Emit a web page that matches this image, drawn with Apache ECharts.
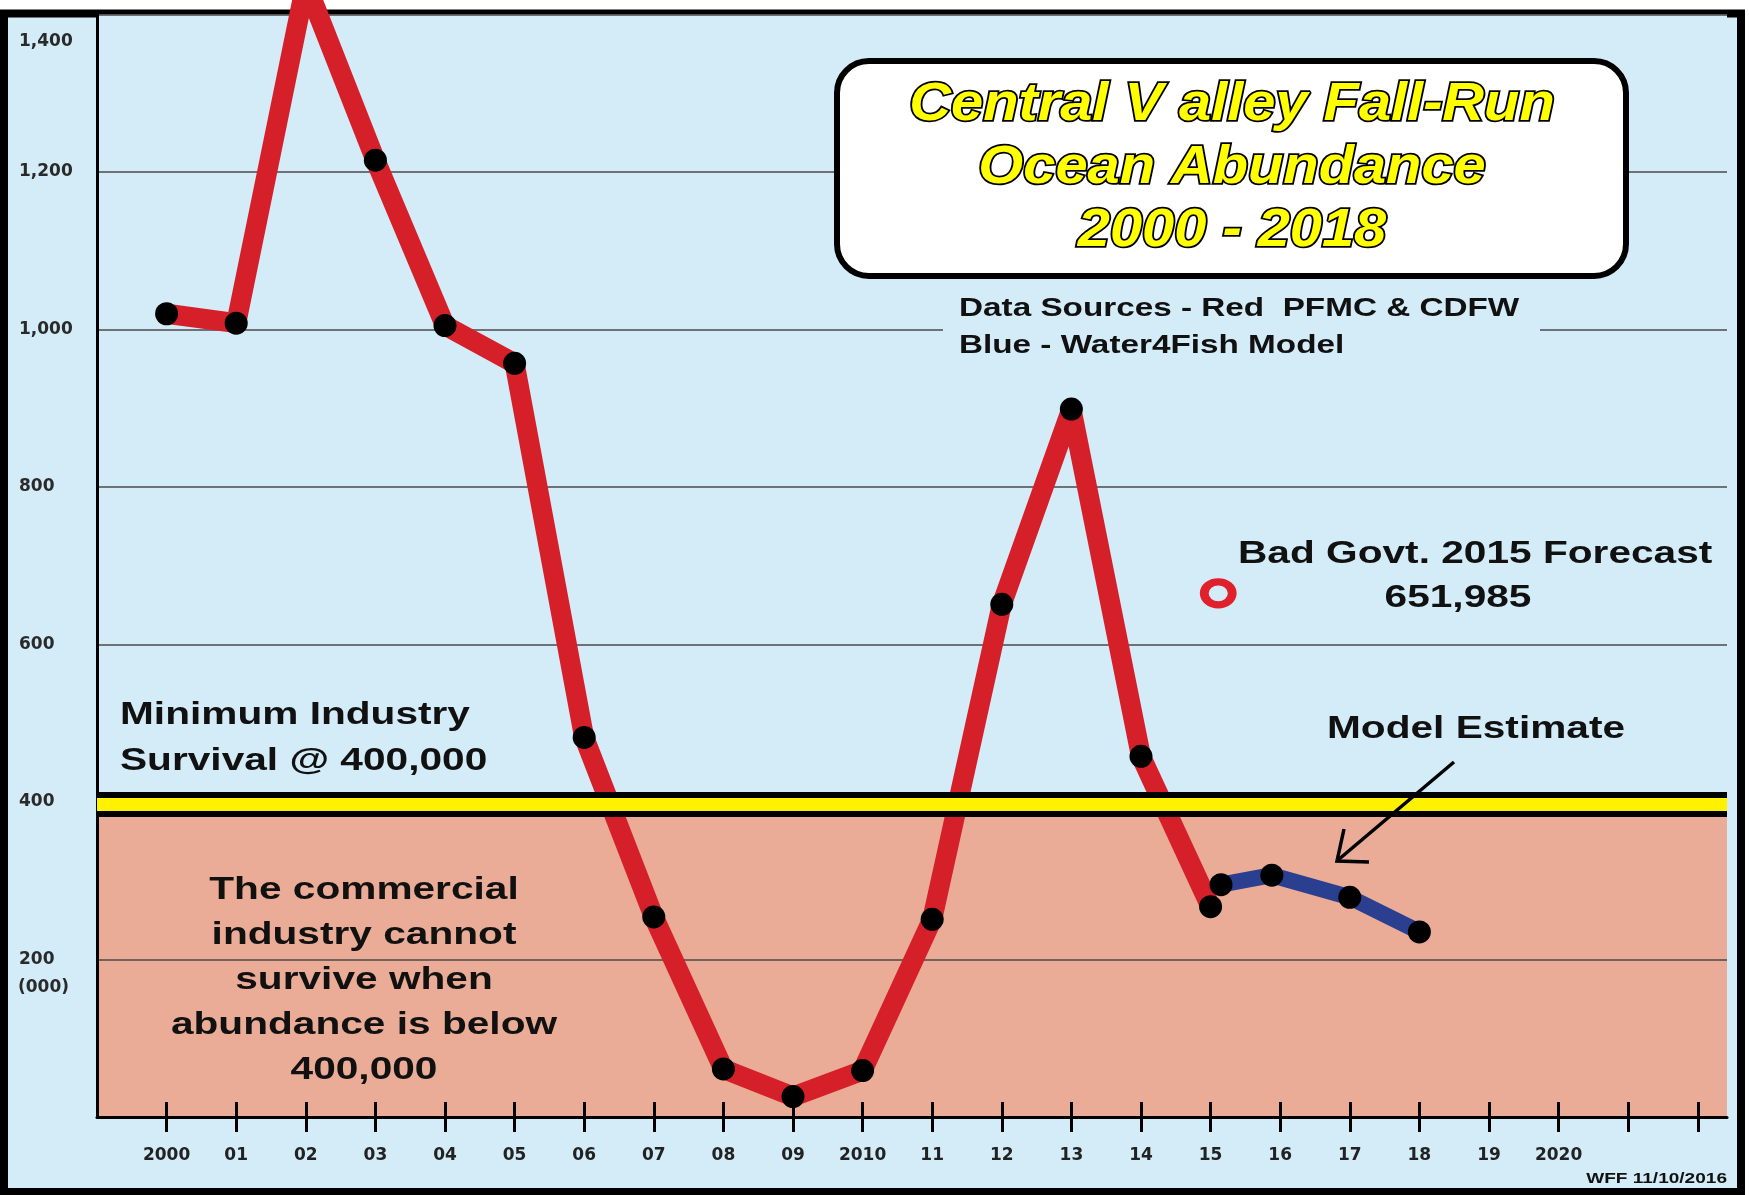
<!DOCTYPE html>
<html>
<head>
<meta charset="utf-8">
<script src="https://cdn.jsdelivr.net/npm/echarts@6/dist/echarts.min.js"></script>
<style>
html, body { margin: 0; padding: 0; background: #fff; }
#chart { width: 1749px; height: 1195px; }
</style>
</head>
<body>
<div id="chart"></div>
<script>
// 数据（千尾）
const years = [2000, 2001, 2002, 2003, 2004, 2005, 2006, 2007, 2008, 2009, 2010, 2011, 2012, 2013, 2014, 2015]
const abundance = [1020, 1008, 1440, 1215, 1005, 957, 482, 254, 61, 26, 59, 251, 651, 899, 458, 267]
const modelYears = [2015.15, 2015.88, 2017, 2018]
const modelAbundance = [295, 307, 279, 235]
const forecastPoint = [2015.11, 665]
const tickYears = [2000, 2001, 2002, 2003, 2004, 2005, 2006, 2007, 2008, 2009, 2010, 2011, 2012, 2013, 2014, 2015, 2016, 2017, 2018, 2019, 2020, 2021, 2022]
const labelYears = [2000, 2001, 2002, 2003, 2004, 2005, 2006, 2007, 2008, 2009, 2010, 2011, 2012, 2013, 2014, 2015, 2016, 2017, 2018, 2019, 2020]
const minSurvival = 397

const BLUE_BG = '#D3ECF8'
const PINK = '#EAAC96'
const RED = '#D62029'
const NAVY = '#2B3F91'

const chart = echarts.init(document.getElementById('chart'))

const yearLabel = (v) => {
	if (v === 2000 || v === 2010 || v === 2020) return String(v)
	if (v > 2020 || v < 2000) return ''
	return String(v).slice(2)
}

const stretchText = (text, x, y, size, opts = {}) => ({
	type: 'text',
	x: x,
	y: y,
	scaleX: opts.scaleX || 1.27,
	z: 60,
	style: {
		text: text,
		font: 'bold ' + size + 'px "Liberation Sans", Arial, sans-serif',
		fill: '#111',
		textAlign: opts.align || 'left',
		textVerticalAlign: 'middle',
		lineHeight: opts.lineHeight
	}
})

const option = {
	animation: false,
	grid: {
		left: 97,
		right: 22,
		top: 14.5,
		bottom: 78,
		outerBoundsMode: 'none'
	},
	xAxis: [
		{
			type: 'value',
			min: 1999,
			max: 2022.42,
			interval: 1,
			axisLine: { show: true, lineStyle: { color: '#000', width: 3 } },
			axisTick: {
				show: true,
				length: 15,
				customValues: tickYears,
				lineStyle: { color: '#000', width: 3 }
			},
			axisLabel: {
				customValues: labelYears,
				margin: 30,
				color: '#222',
				fontFamily: 'DejaVu Sans',
				fontWeight: 'bold',
				fontSize: 17,
				formatter: yearLabel
			},
			splitLine: { show: false }
		},
		{
			type: 'value',
			min: 1999,
			max: 2022.42,
			interval: 1,
			position: 'bottom',
			axisLine: { show: false },
			axisTick: {
				show: true,
				inside: true,
				length: 15,
				customValues: tickYears,
				lineStyle: { color: '#000', width: 3 }
			},
			axisLabel: { show: false },
			splitLine: { show: false }
		}
	],
	yAxis: {
		type: 'value',
		min: 0,
		max: 1400,
		interval: 200,
		axisLine: { show: true, lineStyle: { color: '#000', width: 3 } },
		axisTick: { show: false },
		axisLabel: {
			align: 'left',
			margin: 78,
			color: '#2a2a2a',
			fontFamily: 'DejaVu Sans',
			fontWeight: 'bold',
			fontSize: 17,
			formatter: function (v) {
				if (v === 0) return ''
				const s = v >= 1000 ? Math.floor(v / 1000) + ',' + String(v % 1000).padStart(3, '0') : String(v)
				return v === 1400 ? '{lo|' + s + '}' : s
			},
			rich: {
				lo: {
					padding: [55, 0, 0, 0],
					fontFamily: 'DejaVu Sans',
					fontWeight: 'bold',
					fontSize: 17,
					color: '#2a2a2a'
				}
			}
		},
		splitLine: { show: true, lineStyle: { color: '#4a4a4a', width: 1.5 } },
		splitArea: {
			show: true,
			areaStyle: { color: [PINK, PINK, BLUE_BG, BLUE_BG, BLUE_BG, BLUE_BG, BLUE_BG] }
		}
	},
	series: [
		{
			name: 'PFMC & CDFW',
			type: 'line',
			data: years.map((y, i) => [y, abundance[i]]),
			clip: false,
			z: 3,
			lineStyle: { color: RED, width: 20, join: 'bevel' },
			symbol: 'circle',
			symbolSize: (v, p) => (p.dataIndex === 2 ? 0 : 23),
			itemStyle: { color: '#000' }
		},
		{
			name: 'band',
			type: 'line',
			data: [],
			z: 4,
			markLine: {
				silent: true,
				symbol: ['none', 'none'],
				label: { show: false },
				data: [
					{ yAxis: minSurvival, lineStyle: { color: '#000', width: 25, type: 'solid' } },
					{ yAxis: minSurvival, lineStyle: { color: '#FFF200', width: 13, type: 'solid' } }
				]
			}
		},
		{
			name: 'Water4Fish Model',
			type: 'line',
			data: modelYears.map((y, i) => [y, modelAbundance[i]]),
			z: 5,
			lineStyle: { color: NAVY, width: 16 },
			symbol: 'circle',
			symbolSize: 23,
			itemStyle: { color: '#000' }
		},
		{
			name: 'Forecast',
			type: 'scatter',
			data: [forecastPoint],
			z: 5,
			symbol: 'circle',
			symbolSize: [28, 23],
			itemStyle: { color: 'rgba(0,0,0,0)', borderColor: '#E0202B', borderWidth: 8, opacity: 1 }
		}
	],
	graphic: [
		{
			type: 'rect',
			z: -10,
			shape: { x: 4, y: 13.5, width: 1737, height: 1178.5 },
			style: { fill: BLUE_BG, stroke: '#000', lineWidth: 8 }
		},
		// 标题框
		{
			type: 'rect',
			z: 50,
			shape: { x: 837, y: 61, width: 789, height: 215, r: 32 },
			style: { fill: '#fff', stroke: '#000', lineWidth: 6 }
		},
		{
			type: 'text',
			x: 1232,
			y: 168,
			scaleX: 1.07,
			z: 60,
			style: {
				text: 'Central V alley Fall-Run\nOcean Abundance\n2000 - 2018',
				font: 'italic bold 54px "Liberation Sans", Arial, sans-serif',
				lineHeight: 63,
				fill: '#FFFF00',
				stroke: '#000',
				lineWidth: 3.5,
				textAlign: 'center',
				textVerticalAlign: 'middle'
			}
		},
		// 遮住网格线
		{
			type: 'rect',
			z: 40,
			shape: { x: 943, y: 322, width: 597, height: 16 },
			style: { fill: BLUE_BG }
		},
		stretchText('Data Sources - Red  PFMC & CDFW\nBlue - Water4Fish Model', 959, 327, 26, { scaleX: 1.28, lineHeight: 37 }),
		stretchText('Bad Govt. 2015 Forecast', 1238, 554, 32),
		stretchText('651,985', 1458, 598, 32, { align: 'center' }),
		stretchText('Minimum Industry\nSurvival @ 400,000', 120, 738, 32, { lineHeight: 46 }),
		stretchText('The commercial\nindustry cannot\nsurvive when\nabundance is below\n400,000', 364, 980, 32, { align: 'center', lineHeight: 45 }),
		stretchText('Model Estimate', 1476, 729, 32, { align: 'center' }),
		stretchText('WFF 11/10/2016', 1727, 1179, 15, { align: 'right' }),
		{
			type: 'text',
			x: 18,
			y: 988,
			z: 60,
			style: {
				text: '(000)',
				font: 'bold 17px "DejaVu Sans", sans-serif',
				fill: '#2a2a2a',
				textVerticalAlign: 'middle'
			}
		},
		// 箭头
		{
			type: 'polyline',
			z: 60,
			shape: { points: [[1454, 762], [1338, 860]] },
			style: { stroke: '#000', lineWidth: 3.5 }
		},
		{
			type: 'polyline',
			z: 60,
			shape: { points: [[1344, 829], [1337, 861], [1369, 862]] },
			style: { stroke: '#000', lineWidth: 3.5, fill: null }
		}
	]
}

option && chart.setOption(option)
</script>
</body>
</html>
